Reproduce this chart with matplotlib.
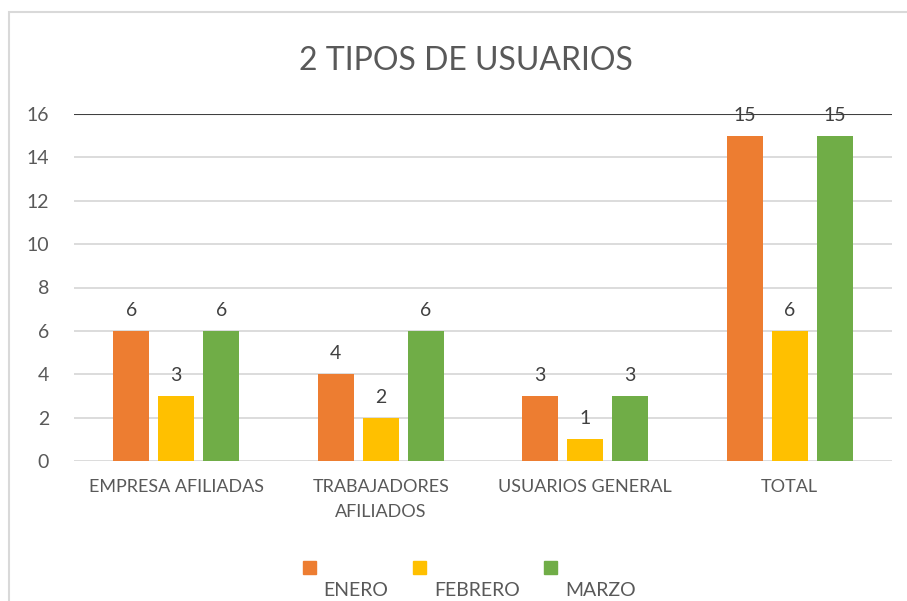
import matplotlib.pyplot as plt
import numpy as np
from matplotlib.patches import Rectangle

plt.rcParams['font.family'] = ['Lato', 'DejaVu Sans']

categories = ['EMPRESA AFILIADAS', 'TRABAJADORES\nAFILIADOS', 'USUARIOS GENERAL', 'TOTAL']
enero = [6, 4, 3, 15]
febrero = [3, 2, 1, 6]
marzo = [6, 6, 3, 15]
series = ['ENERO', 'FEBRERO', 'MARZO']
colors = ['#ED7D31', '#FFC000', '#70AD47']

fig = plt.figure(figsize=(9.07, 6.01), dpi=100)
ax = fig.add_axes([74/907, 1-461/601, 818/907, 347/601])

x = np.arange(len(categories))
step = 0.22
width = 0.176
for i, (vals, c) in enumerate(zip([enero, febrero, marzo], colors)):
    bars = ax.bar(x + (i-1)*step, vals, width, color=c, zorder=3)
    for b, v in zip(bars, vals):
        ax.text(b.get_x() + b.get_width()/2, v + 0.95, str(v), ha='center', va='center',
                fontsize=14, color='#404040', zorder=4)

ax.set_xlim(-0.5, 3.5)
ax.set_ylim(0, 16)
ax.set_yticks(range(0, 17, 2))
for yv in range(0, 16, 2):
    ax.axhline(yv, color='#D9D9D9', lw=1.3, zorder=1)
ax.axhline(16, color='#404040', lw=1.5, zorder=1)
for s in ax.spines.values():
    s.set_visible(False)
ax.tick_params(axis='y', length=0, pad=18, labelsize=14, labelcolor='#595959')
ax.tick_params(axis='x', length=0, pad=13, labelsize=13, labelcolor='#595959')
ax.set_xticks(x)
ax.set_xticklabels(categories, va='top', linespacing=1.65)

fig.text(466/907, 1-61/601, '2 TIPOS DE USUARIOS', ha='center', va='center',
         fontsize=23, color='#595959')

# frame
fig.patches.append(Rectangle((9/907, -0.1), 1.2, 1-12/601+0.1, transform=fig.transFigure,
                             fill=False, edgecolor='#D9D9D9', lw=1.5))

# legend
sq_x = [303, 413, 544]
lab_x = [356, 477, 601]
for name, c, sx, lx in zip(series, colors, sq_x, lab_x):
    fig.patches.append(Rectangle((sx/907, 1-574/601), 13/907, 13/601,
                                 transform=fig.transFigure, color=c))
    fig.text(lx/907, 1-591/601, name, ha='center', va='center', fontsize=14, color='#595959')

fig.savefig('out.png', dpi=100)
